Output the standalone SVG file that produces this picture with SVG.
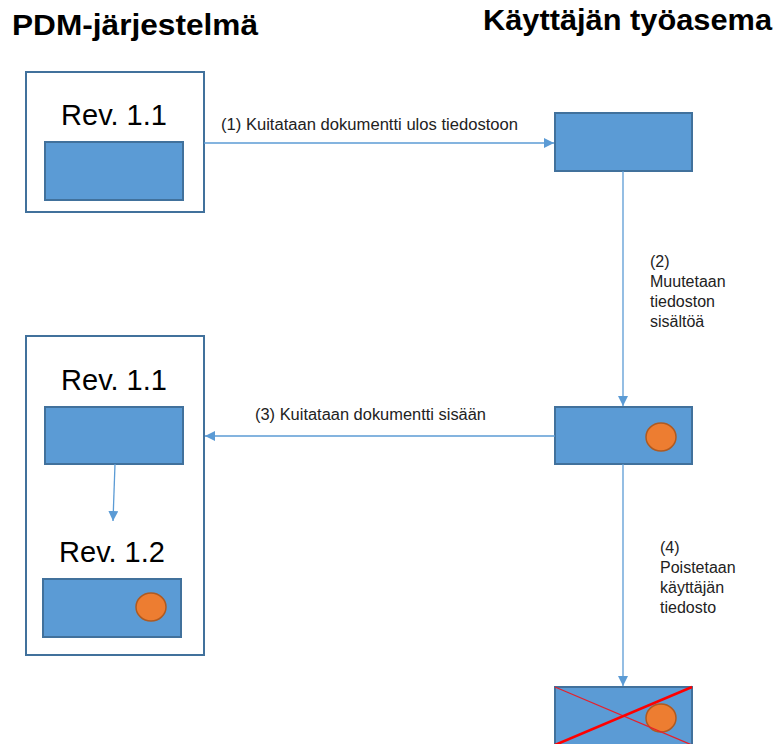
<svg xmlns="http://www.w3.org/2000/svg" width="777" height="744" viewBox="0 0 777 744">
  <defs>
    <style>
      .title { font-family: "Liberation Sans", Arial, sans-serif; font-weight: bold; font-size: 29px; fill: #000; }
      .rev { font-family: "Liberation Sans", Arial, sans-serif; font-size: 29px; fill: #000; }
      .lbl { font-family: "Liberation Sans", Arial, sans-serif; font-size: 16px; fill: #222; }
      .container { fill: #fff; stroke: #41719C; stroke-width: 2; }
      .doc { fill: #5B9BD5; stroke: #41719C; stroke-width: 2; }
      .mark { fill: #ED7D31; stroke: #AE5A21; stroke-width: 1.5; }
      .conn { stroke: #5B9BD5; stroke-width: 1.3; fill: none; marker-end: url(#arrow); }
    </style>
    <marker id="arrow" viewBox="0 0 10 10" refX="10" refY="5" markerWidth="10" markerHeight="10" markerUnits="userSpaceOnUse" orient="auto">
      <path d="M0,0 L10,5 L0,10 Z" fill="#5B9BD5"/>
    </marker>
  </defs>

  <rect width="777" height="744" fill="#fff"/>

  <!-- column headings -->
  <text class="title" x="12" y="35" textLength="246" lengthAdjust="spacingAndGlyphs">PDM-järjestelmä</text>
  <text class="title" x="483" y="30" textLength="289" lengthAdjust="spacingAndGlyphs">Käyttäjän työasema</text>

  <!-- PDM system, before check-out -->
  <g id="pdm-before">
    <rect class="container" x="26" y="72" width="178" height="140"/>
    <text class="rev" x="114" y="125" text-anchor="middle">Rev. 1.1</text>
    <rect class="doc" x="45" y="142" width="138" height="58"/>
  </g>

  <!-- PDM system, after check-in -->
  <g id="pdm-after">
    <rect class="container" x="26" y="336" width="178" height="319"/>
    <text class="rev" x="114" y="390" text-anchor="middle">Rev. 1.1</text>
    <rect class="doc" x="45" y="407" width="138" height="57"/>
    <text class="rev" x="112" y="562" text-anchor="middle">Rev. 1.2</text>
    <rect class="doc" x="43" y="579" width="138" height="58"/>
    <ellipse class="mark" cx="151" cy="607" rx="15" ry="14"/>
  </g>

  <!-- workstation file copies -->
  <g id="ws-file">
    <rect class="doc" x="555" y="113" width="137" height="58"/>
  </g>
  <g id="ws-file-edited">
    <rect class="doc" x="555" y="407" width="137" height="57"/>
    <ellipse class="mark" cx="661" cy="437" rx="15" ry="14"/>
  </g>
  <g id="ws-file-deleted">
    <rect class="doc" x="555" y="687" width="137" height="58"/>
    <ellipse class="mark" cx="661" cy="718" rx="15" ry="14"/>
    <line x1="555" y1="687" x2="692" y2="745" stroke="#E8202A" stroke-width="1.3"/>
    <line x1="555" y1="745" x2="692" y2="687" stroke="#FF0000" stroke-width="2.5"/>
  </g>

  <!-- connectors -->
  <g id="connectors">
    <line class="conn" x1="204" y1="143" x2="554" y2="143"/>
    <line class="conn" x1="623" y1="171" x2="623" y2="406"/>
    <line class="conn" x1="555" y1="436" x2="205" y2="436"/>
    <line class="conn" x1="623" y1="464" x2="623" y2="686"/>
    <line class="conn" x1="115" y1="464" x2="113" y2="521"/>
  </g>

  <!-- connector labels -->
  <g id="labels">
    <text class="lbl" x="221" y="130" textLength="297" lengthAdjust="spacingAndGlyphs">(1) Kuitataan dokumentti ulos tiedostoon</text>
    <text class="lbl" x="650" y="267">(2)</text>
    <text class="lbl" x="650" y="287">Muutetaan</text>
    <text class="lbl" x="650" y="307">tiedoston</text>
    <text class="lbl" x="650" y="327">sisältöä</text>
    <text class="lbl" x="255" y="420" textLength="231" lengthAdjust="spacingAndGlyphs">(3) Kuitataan dokumentti sisään</text>
    <text class="lbl" x="660" y="553">(4)</text>
    <text class="lbl" x="660" y="573">Poistetaan</text>
    <text class="lbl" x="660" y="593">käyttäjän</text>
    <text class="lbl" x="660" y="613">tiedosto</text>
  </g>
</svg>
